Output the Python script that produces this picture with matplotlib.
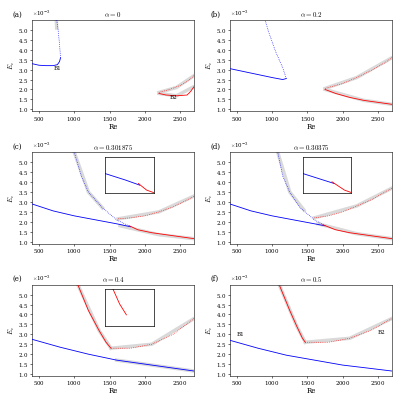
import numpy as np
import matplotlib.pyplot as plt

plt.rcParams['font.family'] = 'DejaVu Serif'
plt.rcParams['mathtext.fontset'] = 'cm'
plt.rcParams['axes.formatter.use_mathtext'] = True

titles = ["$\\alpha = 0$", "$\\alpha = 0.2$", "$\\alpha = 0.301875$",
          "$\\alpha = 0.30375$", "$\\alpha = 0.4$", "$\\alpha = 0.5$"]
tags = ["(a)", "(b)", "(c)", "(d)", "(e)", "(f)"]

# curves per panel: (Re list, Ec list in 1e-3)
blue_solid = [
    ([400, 500, 600, 700, 760, 790, 805], [3.3, 3.22, 3.2, 3.2, 3.25, 3.4, 3.6]),
    ([400, 600, 800, 1000, 1150, 1200], [3.05, 2.9, 2.75, 2.6, 2.5, 2.55]),
    ([400, 700, 1000, 1300, 1600, 1800], [2.9, 2.55, 2.3, 2.1, 1.9, 1.75]),
    ([400, 700, 1000, 1300, 1600, 1750], [2.9, 2.55, 2.3, 2.1, 1.9, 1.8]),
    ([400, 800, 1200, 1600, 2000, 2400, 2700], [2.75, 2.35, 2.0, 1.7, 1.5, 1.3, 1.15]),
    ([400, 800, 1200, 1600, 2000, 2400, 2700], [2.7, 2.3, 1.95, 1.7, 1.45, 1.28, 1.15]),
]
blue_dot = [
    ([805, 790, 770, 750], [3.6, 4.3, 5.0, 5.5]),
    ([1200, 1150, 1050, 950, 900], [2.55, 3.1, 3.9, 4.9, 5.5]),
    ([1800, 1600, 1400, 1200, 1100, 1000], [1.75, 2.1, 2.7, 3.5, 4.3, 5.5]),
    ([1750, 1600, 1400, 1250, 1150, 1080], [1.8, 2.1, 2.7, 3.5, 4.3, 5.5]),
    None, None,
]
red_solid = [
    ([2200, 2300, 2450, 2600, 2650, 2700], [1.8, 1.72, 1.68, 1.72, 1.9, 2.15]),
    ([1750, 1900, 2100, 2300, 2500, 2700], [2.0, 1.8, 1.6, 1.45, 1.35, 1.25]),
    ([1780, 1900, 2100, 2300, 2500, 2700], [1.8, 1.6, 1.45, 1.35, 1.25, 1.15]),
    ([1720, 1900, 2100, 2300, 2500, 2700], [1.85, 1.6, 1.45, 1.35, 1.25, 1.15]),
    ([1050, 1200, 1350, 1450, 1520], [5.5, 4.2, 3.2, 2.6, 2.3]),
    ([1100, 1250, 1350, 1430, 1470], [5.5, 4.2, 3.4, 2.8, 2.6]),
]
red_dot = [
    ([2200, 2350, 2500, 2600, 2700], [1.85, 2.0, 2.2, 2.4, 2.7]),
    ([1750, 2000, 2200, 2400, 2600, 2700], [2.05, 2.3, 2.6, 2.95, 3.35, 3.6]),
    ([1620, 1800, 2000, 2200, 2400, 2600, 2700], [2.15, 2.2, 2.3, 2.5, 2.75, 3.1, 3.3]),
    ([1600, 1800, 2000, 2200, 2400, 2600, 2700], [2.2, 2.3, 2.5, 2.8, 3.1, 3.5, 3.7]),
    ([1520, 1800, 2100, 2400, 2700], [2.3, 2.3, 2.5, 3.0, 3.8]),
    ([1470, 1800, 2100, 2400, 2700], [2.6, 2.6, 2.8, 3.2, 3.8]),
]
halo = [
    [([750, 745], [5.1, 5.5]), ([2200, 2450, 2700], [1.8, 1.68, 2.15]), ([2200, 2450, 2700], [1.85, 2.1, 2.7])],
    [([1750, 2300, 2700], [2.0, 1.45, 1.25]), ([1750, 2200, 2700], [2.05, 2.6, 3.6])],
    [([1000, 1200, 1400], [5.5, 3.5, 2.7]), ([1650, 2200, 2700], [1.8, 1.35, 1.15]), ([1620, 2200, 2700], [2.15, 2.5, 3.3])],
    [([1080, 1250, 1450], [5.5, 3.5, 2.6]), ([1650, 2200, 2700], [1.9, 1.4, 1.15]), ([1600, 2200, 2700], [2.2, 2.8, 3.7])],
    [([1050, 1350, 1520], [5.5, 3.2, 2.3]), ([1520, 2100, 2700], [2.3, 2.5, 3.8]), ([1600, 2000, 2700], [1.7, 1.5, 1.15])],
    [([1100, 1350, 1470], [5.5, 3.4, 2.6]), ([1470, 2100, 2700], [2.6, 2.8, 3.8])],
]
labels = [[("B1", 700, 3.0), ("B2", 2350, 1.5)], [], [], [], [], [("B1", 500, 2.9), ("B2", 2500, 3.0)]]

fig, axes = plt.subplots(3, 2, figsize=(4, 4), dpi=100)
for i, ax in enumerate(axes.flat):
    for x, y in halo[i]:
        ax.plot(x, np.array(y) * 1e-3, color='0.85', lw=2.5, zorder=1)
    x, y = blue_solid[i]
    ax.plot(x, np.array(y) * 1e-3, color='blue', lw=0.6, zorder=3)
    if blue_dot[i]:
        x, y = blue_dot[i]
        ax.plot(x, np.array(y) * 1e-3, color='blue', lw=0.5, ls=':', zorder=3)
    x, y = red_solid[i]
    ax.plot(x, np.array(y) * 1e-3, color='red', lw=0.6, zorder=3)
    x, y = red_dot[i]
    ax.plot(x, np.array(y) * 1e-3, color='red', lw=0.5, ls=':', zorder=3)
    for t, lx, ly in labels[i]:
        ax.text(lx, ly * 1e-3, t, fontsize=4)
    ax.set_xlim(400, 2700)
    ax.set_ylim(0.9e-3, 5.5e-3)
    ax.set_xticks([500, 1000, 1500, 2000, 2500])
    ax.set_yticks(np.arange(1, 5.5, 0.5) * 1e-3)
    ax.ticklabel_format(axis='y', style='sci', scilimits=(0, 0), useMathText=True)
    ax.yaxis.get_offset_text().set_fontsize(4)
    ax.tick_params(labelsize=4, length=1.5, width=0.4, pad=1)
    for s in ax.spines.values():
        s.set_linewidth(0.4)
    ax.set_title(titles[i], fontsize=5, pad=2)
    ax.set_xlabel("Re", fontsize=5, labelpad=0)
    ax.set_ylabel("$E_c$", fontsize=5, labelpad=1)
    ax.text(-0.12, 1.04, tags[i], transform=ax.transAxes, fontsize=5)
    if i in (2, 3, 4):
        ins = ax.inset_axes([0.45, 0.55, 0.3, 0.4])
        ins.set_xticks([]); ins.set_yticks([])
        for s in ins.spines.values():
            s.set_linewidth(0.5)
        x, y = blue_solid[i]
        ins.plot(x, y, color='blue', lw=0.6)
        x, y = red_solid[i]
        ins.plot(x, y, color='red', lw=0.6)
        ins.set_xlim(1300, 2000) if i != 4 else ins.set_xlim(1300, 1800)
        ins.set_ylim(1.5, 2.6) if i != 4 else ins.set_ylim(2.0, 3.0)

fig.subplots_adjust(left=0.08, right=0.98, top=0.95, bottom=0.06, hspace=0.45, wspace=0.22)
fig.savefig("out.png")
